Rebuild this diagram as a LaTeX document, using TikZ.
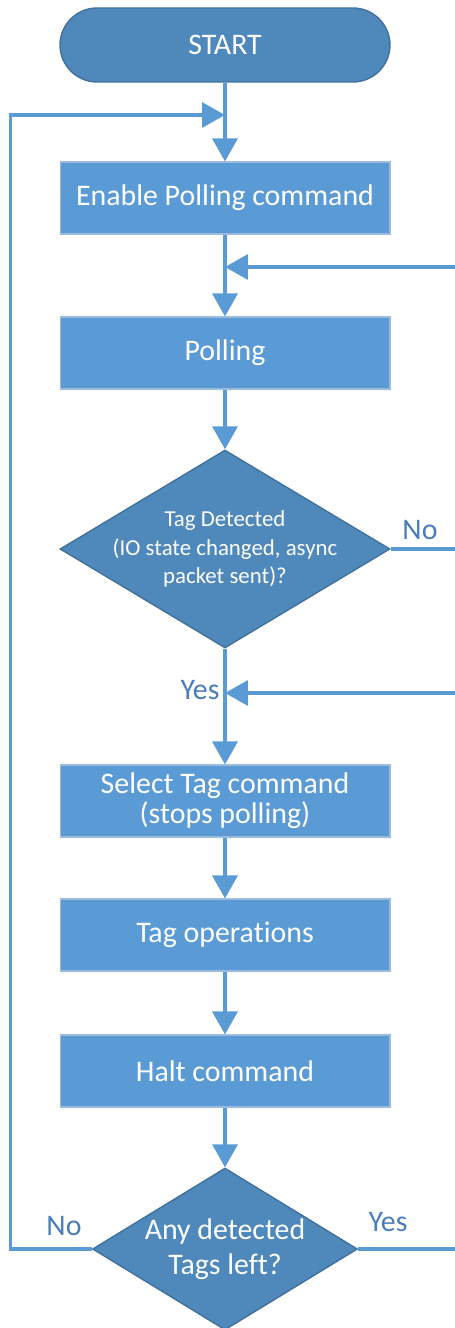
\documentclass[tikz,border=0pt]{standalone}
\usepackage{fontspec}
\setmainfont{Carlito}[Ligatures={NoCommon}]
\usetikzlibrary{arrows.meta,calc,shapes.geometric,positioning}
\definecolor{termblue}{HTML}{4F88BB}
\definecolor{boxblue}{HTML}{5B9BD5}
\definecolor{edgeblue}{HTML}{41719C}
\definecolor{boxedge}{HTML}{9DBCDD}
\definecolor{labelblue}{HTML}{4A7EBB}
\tikzset{
    terminal/.style={rectangle, rounded corners=0.74cm, fill=termblue, draw=edgeblue, line width=0.8pt,
        minimum width=6.6cm, minimum height=1.48cm, text=white, font=\fontsize{17}{17}\selectfont},
    process/.style={rectangle, fill=boxblue, draw=boxedge, line width=0.6pt,
        minimum width=6.6cm, minimum height=1.44cm, text=white, align=center,
        font=\fontsize{17}{17}\selectfont},
    decision/.style={diamond, fill=termblue, draw=edgeblue, line width=0.8pt, inner sep=0pt},
    qtext/.style={text=white, align=center},
    flow/.style={draw=boxblue, line width=1.9pt, -{Triangle[length=0.46cm,width=0.5cm]}},
    link/.style={draw=boxblue, line width=1.9pt},
    answer/.style={text=labelblue, font=\fontsize{17}{17}\selectfont}
}
\begin{document}
\begin{tikzpicture}[x=0.02cm, y=-0.02cm]

            \useasboundingbox (0,0) rectangle (455,1328);

            % Draw the blocks.
            \node[terminal] (start) at (225,45) {START};
            \node[process] (enable) at (225,198) {Enable Polling command};
            \node[process] (polling) at (225,353) {Polling};
            \node[decision, minimum width=6.6cm, minimum height=3.96cm] (detect) at (225,549) {};
            \node[qtext, font=\fontsize{13}{16}\selectfont] (detecttxt) at (detect.center)
                {Tag Detected\\(IO state changed, async\\packet sent)?};
            \node[process, font=\fontsize{17}{17}\selectfont] (select) at (225,801)
                {Select Tag command\\(stops polling)};
            \node[process] (tagops) at (225,935) {Tag operations};
            \node[process] (halt) at (225,1071) {Halt command};
            \node[decision, minimum width=5.3cm, minimum height=3.24cm] (anytags) at (225,1249) {};
            \node[qtext, font=\fontsize{17}{20}\selectfont] (anytxt) at (anytags.center)
                {Any detected\\Tags left?};

            % Draw the entry points.
            \coordinate (loopin) at (start.south |- 0,115);
            \coordinate (pollin) at (start.south |- 0,267);
            \coordinate (pollfeed) at (455,267);
            \coordinate (selectin) at (start.south |- 0,693);
            \coordinate (selectfeed) at (455,693);
            \coordinate (noout) at (455,549);
            \coordinate (yesout) at (455,1249);

            % Draw the connectors.
            \draw[link] (start.south) -- (loopin);
            \draw[flow] (loopin) -- (enable.north);
            \draw[link] (enable.south) -- (pollin);
            \draw[flow] (pollin) -- (polling.north);
            \draw[flow] (pollfeed) -- (pollin);
            \draw[flow] (polling.south) -- (detect.north);
            \draw[link] (detect.east) -- (noout);
            \draw[link] (detect.south) -- (selectin);
            \draw[flow] (selectin) -- (select.north);
            \draw[flow] (selectfeed) -- (selectin);
            \draw[flow] (select.south) -- (tagops.north);
            \draw[flow] (tagops.south) -- (halt.north);
            \draw[flow] (halt.south) -- (anytags.north);
            \draw[link] (anytags.east) -- (yesout);
            \draw[flow] (anytags.west) -- ++(-81,0) |- (loopin);

            % Draw the answers.
            \node[answer] (detectno) at (420,530) {No};
            \node[answer] (detectyes) at (200,690) {Yes};
            \node[answer] (anyno) at (64,1226) {No};
            \node[answer] (anyyes) at (388,1222) {Yes};

\end{tikzpicture}
\end{document}
